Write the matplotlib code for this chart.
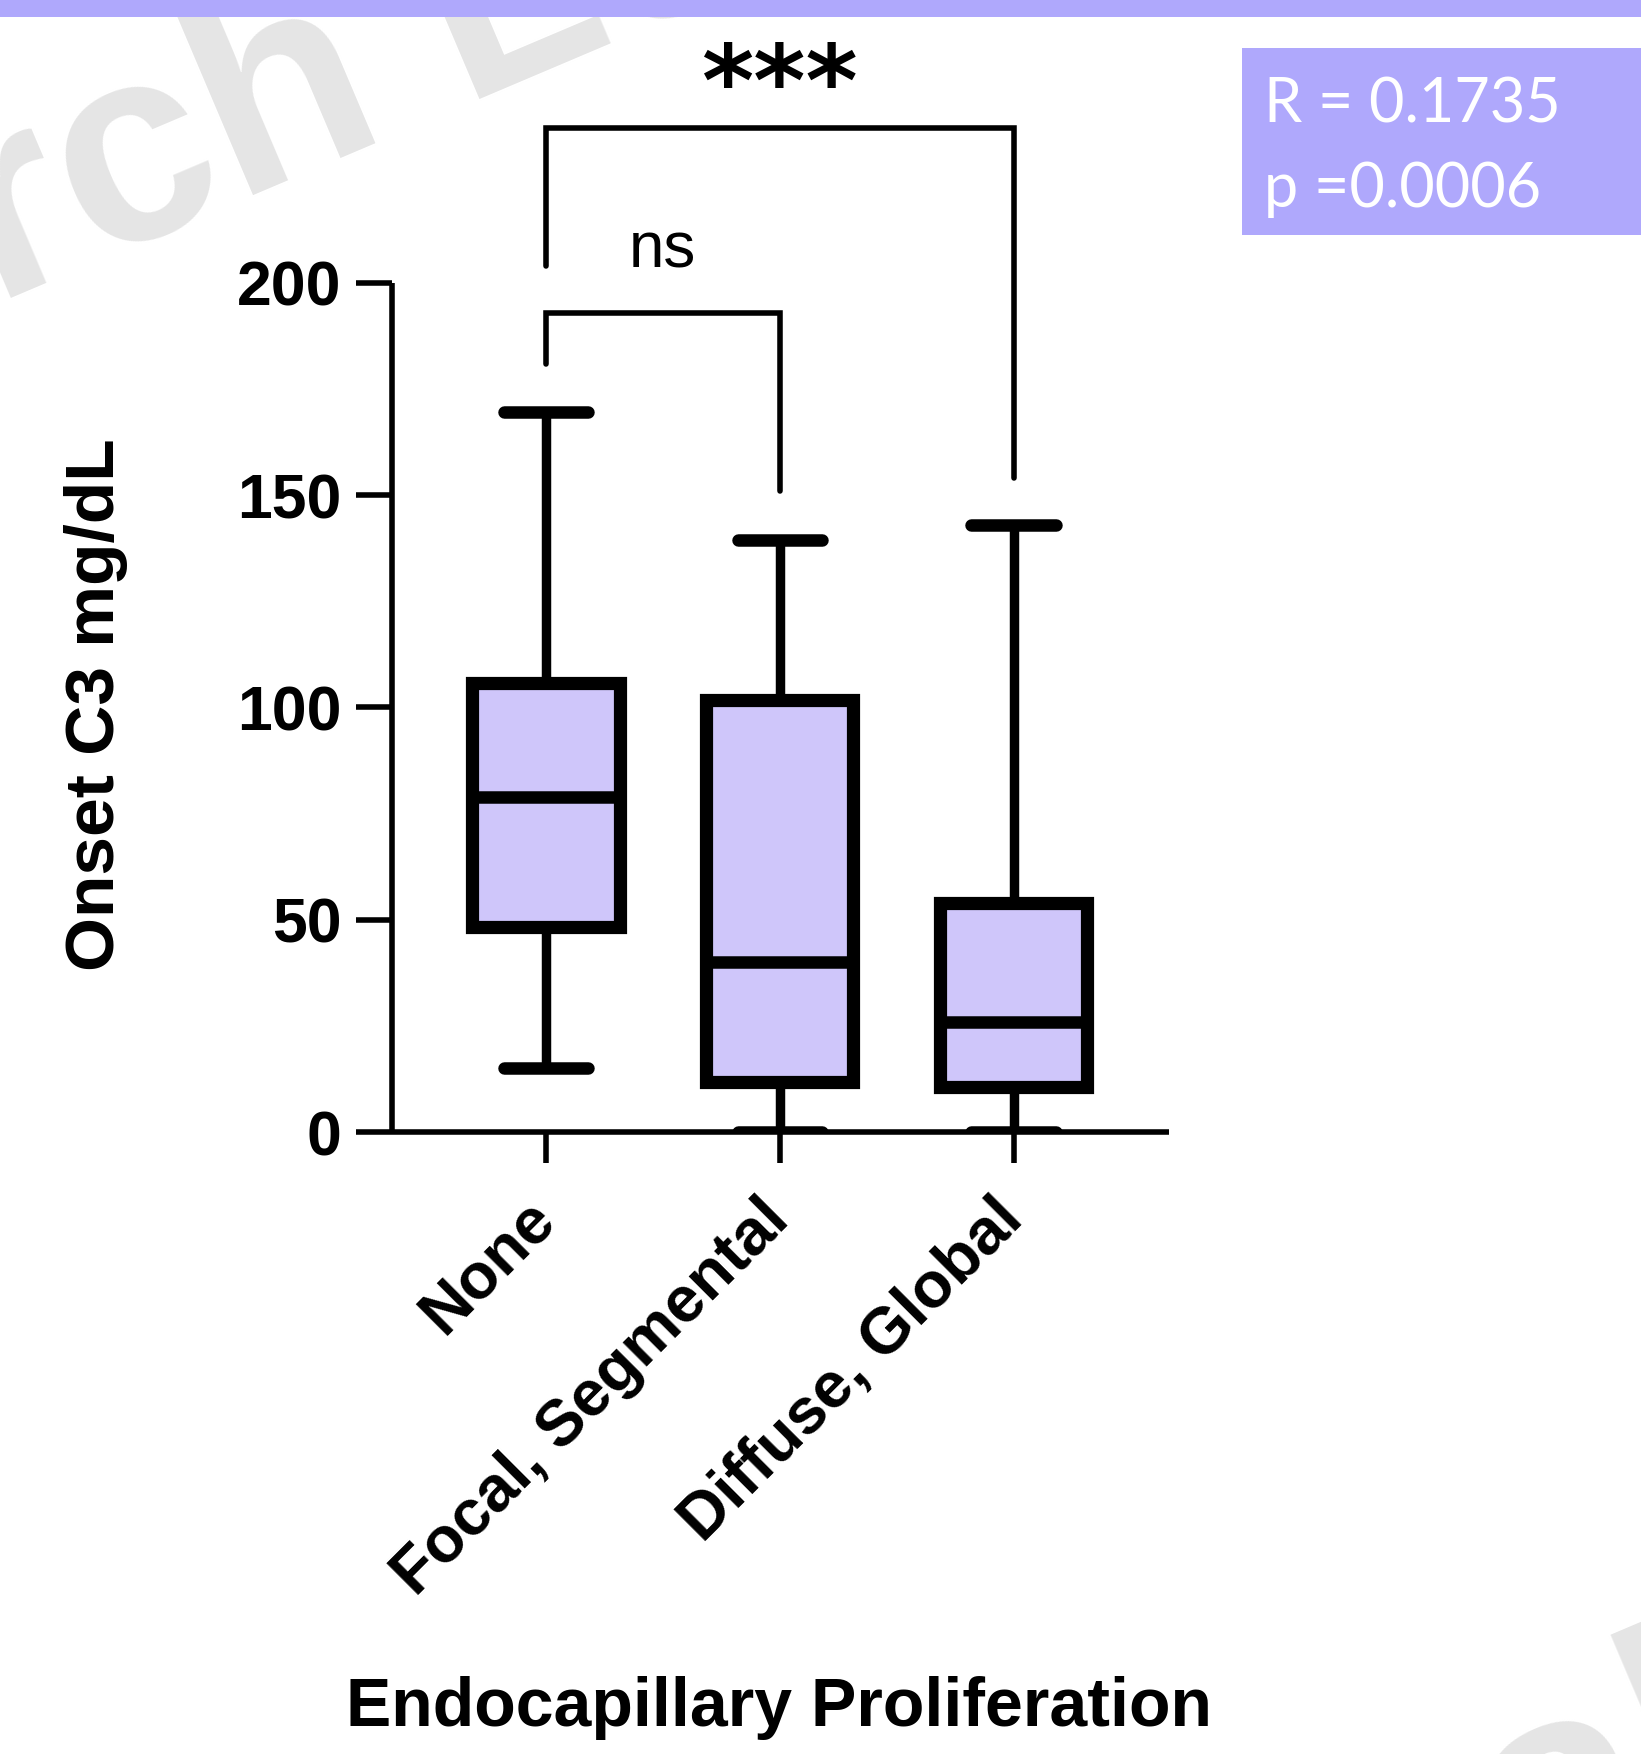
import matplotlib
matplotlib.use("Agg")
import matplotlib.pyplot as plt
import matplotlib.patches as mpatches

# ── Data ─────────────────────────────────────────────────────
categories = ["None", "Focal, Segmental", "Diffuse, Global"]
whisker_low = [15.0, 0.0, 0.0]
q1 = [48.4, 11.8, 10.5]
median = [78.9, 40.0, 25.8]
q3 = [105.8, 101.8, 53.9]
whisker_high = [169.5, 139.5, 142.9]

y_ticks = [0, 50, 100, 150, 200]

# significance brackets: (left, right, height, left leg end, right leg end, label)
brackets = [
    (0, 1, 193, 181, 151, "ns"),
    (0, 2, 236.6, 204, 154, "***"),
]

stat_lines = ["R = 0.1735", "p =0.0006"]

BOX_FILL = "#CFC6FA"
BAND = "#AFA8FC"
WATERMARK = "#E5E5E5"

plt.rcParams["font.family"] = ["Liberation Sans", "DejaVu Sans"]

fig = plt.figure(figsize=(16.41, 17.54), dpi=100)
fig.patch.set_facecolor("white")

# watermark fragments
fig.text(-0.004, 0.826, "rch Le", fontsize=200, fontweight="bold",
         color=WATERMARK, rotation=23, rotation_mode="anchor",
         ha="left", va="baseline", zorder=0)
fig.text(0.927, -0.089, "al", fontsize=220, fontweight="bold",
         color=WATERMARK, rotation=23, rotation_mode="anchor",
         ha="left", va="baseline", zorder=0)

# top band and stats box
fig.add_artist(mpatches.Rectangle((0, 1 - 17 / 1754), 1, 17 / 1754,
                                  transform=fig.transFigure,
                                  facecolor=BAND, edgecolor="none"))
fig.add_artist(mpatches.Rectangle((0.757, 0.866), 0.243, 0.1066,
                                  transform=fig.transFigure,
                                  facecolor=BAND, edgecolor="none"))
fig.text(0.770, 0.930, stat_lines[0], fontsize=44, family="Lato",
         color="white", ha="left", va="baseline")
fig.text(0.770, 0.882, stat_lines[1], fontsize=44, family="Lato",
         color="white", ha="left", va="baseline")

ax = fig.add_axes([0.2386, 0.3546, 0.4738, 0.4841])
ax.patch.set_alpha(0)

stats = []
for i, name in enumerate(categories):
    stats.append(dict(label=name, whislo=whisker_low[i], q1=q1[i],
                      med=median[i], q3=q3[i], whishi=whisker_high[i],
                      fliers=[]))

positions = list(range(len(categories)))
ax.bxp(stats, positions=positions, widths=0.63, capwidths=0.36,
       patch_artist=True, showfliers=False,
       boxprops=dict(facecolor=BOX_FILL, edgecolor="black", linewidth=9.5,
                     joinstyle="miter"),
       medianprops=dict(color="black", linewidth=9, solid_capstyle="butt"),
       whiskerprops=dict(color="black", linewidth=6.8),
       capprops=dict(color="black", linewidth=9, solid_capstyle="round"))

# brackets
for x0, x1, h, l0, l1, label in brackets:
    ax.plot([x0, x0, x1, x1], [l0, h, h, l1], color="black", lw=4,
            solid_joinstyle="miter", solid_capstyle="round", clip_on=False)
    if label == "ns":
        ax.text((x0 + x1) / 2, h + 7.6, label, ha="center", va="bottom",
                fontsize=46, clip_on=False)
    else:
        ax.text((x0 + x1) / 2, h - 2.2, label, ha="center", va="bottom",
                fontsize=72, fontweight="bold", family="DejaVu Sans",
                clip_on=False)

ax.set_xlim(-0.66, 2.665)
ax.set_ylim(0, 200)
ax.set_yticks(y_ticks)
ax.set_yticklabels([str(t) for t in y_ticks], fontsize=45, fontweight="bold")
ax.set_xticks(positions)
ax.set_xticklabels(categories, fontsize=46.5, fontweight="bold", rotation=45,
                   ha="right", va="center", rotation_mode="anchor")

for side in ["top", "right"]:
    ax.spines[side].set_visible(False)
for side in ["left", "bottom"]:
    ax.spines[side].set_linewidth(4)
    ax.spines[side].set_capstyle("butt")
ax.tick_params(axis="y", length=26, width=4, pad=10)
ax.tick_params(axis="x", length=22, width=4, pad=34)

fig.text(0.0586, 0.598, "Onset C3 mg/dL", rotation=90, fontsize=50,
         fontweight="bold", ha="center", va="center")
fig.text(0.475, 0.0262, "Endocapillary Proliferation", fontsize=49,
         fontweight="bold", ha="center", va="center")

fig.savefig("out.png", dpi=100, facecolor="white")
